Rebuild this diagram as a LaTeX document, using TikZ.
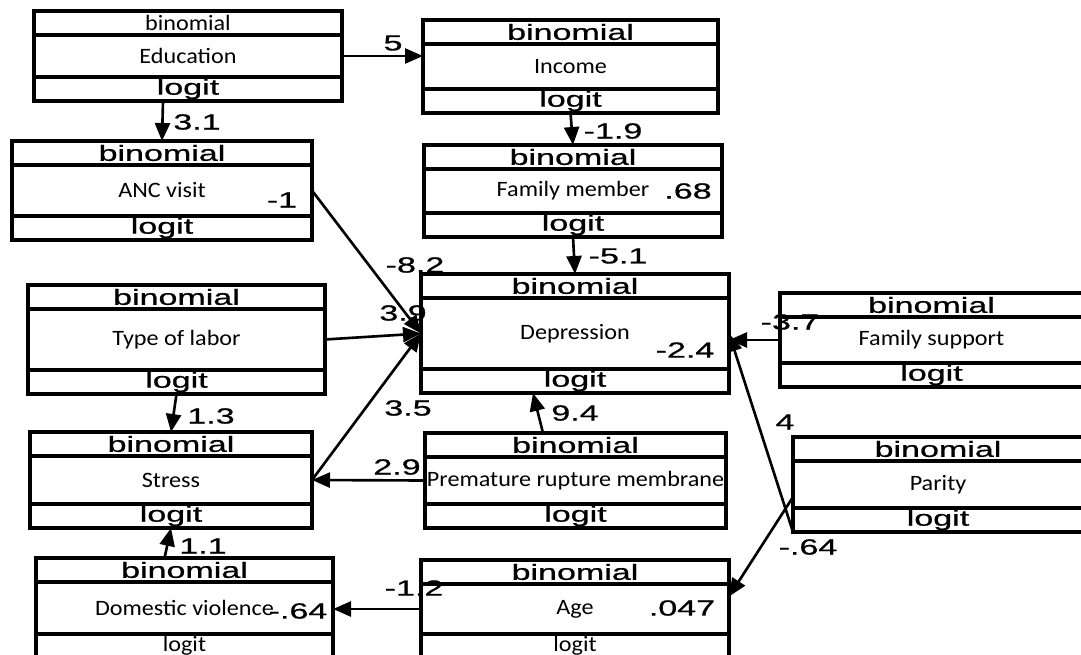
\documentclass[tikz,border=0pt]{standalone}
\usepackage{fontspec}
\usepackage{graphicx}
\usetikzlibrary{arrows.meta}
\newfontfamily\namefont{Carlito}
\newfontfamily\tagfont[FakeBold=0.6]{Liberation Sans}
\newcommand{\wide}[1]{\scalebox{1.55}[1]{\tagfont #1}}
\newcommand{\nm}[1]{\scalebox{1.1}[1]{\namefont #1}}

\begin{document}
\begin{tikzpicture}[
    x=0.02cm, y=-0.02cm,
    font=\fontsize{12.5}{14}\selectfont,
    varbox/.style={rectangle, draw, line width=2pt, inner sep=0pt, outer sep=0pt, fill=white},
    strip/.style={rectangle, draw, line width=2pt, inner sep=0pt, outer sep=0pt, minimum height=0.48cm},
    coef/.style={inner sep=0pt},
    arrow/.style={-{Triangle[length=0.36cm,width=0.3cm]}, line width=1.5pt}
]
\useasboundingbox[fill=white] (0,0) rectangle (1081,655);

% Variables (name / centre / size / label / top / bottom)
\foreach \n/\px/\py/\bw/\bh/\lab/\tp/\bt in {
    edu/188/56/308/90/Education/{\nm{binomial}}/{\wide{logit}},
    inc/570.5/66.5/295/93/Income/{\wide{binomial}}/{\wide{logit}},
    anc/162/190.5/300/99/ANC visit/{\wide{binomial}}/{\wide{logit}},
    fm/573/191/298/92/Family member/{\wide{binomial}}/{\wide{logit}},
    tol/176.5/339.5/297/109/Type of labor/{\wide{binomial}}/{\wide{logit}},
    dep/575/333.5/308/119/Depression/{\wide{binomial}}/{\wide{logit}},
    fs/931.5/340/303/94/Family support/{\wide{binomial}}/{\wide{logit}},
    stress/171/480/282/96/Stress/{\wide{binomial}}/{\wide{logit}},
    prm/575.5/480.5/301/95/Premature rupture membrane/{\wide{binomial}}/{\wide{logit}},
    par/938/484.5/290/95/Parity/{\wide{binomial}}/{\wide{logit}},
    dv/184.5/608/297/100/Domestic violence/{\wide{binomial}}/{\nm{logit}},
    age/575/609/308/98/Age/{\wide{binomial}}/{\nm{logit}}}{
  \node[varbox, minimum width={\bw*0.02cm}, minimum height={\bh*0.02cm}] (\n) at (\px,\py) {\nm{\lab}};
  \node[strip, minimum width={\bw*0.02cm}, anchor=north] (\n-top) at (\n.north) {\tp};
  \node[strip, minimum width={\bw*0.02cm}, anchor=south] (\n-bot) at (\n.south) {\bt};
}

% Paths
\draw[arrow] (edu.east) -- (edu.east -| inc.west);
\draw[arrow] ([xshift=-0.5cm]edu.south) -- (anc.north);
\draw[arrow] (inc.south) -- (fm.north);
\draw[arrow] (fm.south) -- (dep.north);
\draw[arrow] (anc.east) -- (dep.west);
\draw[arrow] (tol.east) -- (dep.west);
\draw[arrow] (stress.east) -- (dep.west);
\draw[arrow] (prm.west) -- (stress.east);
\draw[arrow] ([xshift=-0.65cm]prm.north) -- ([xshift=-0.84cm]dep.south);
\draw[arrow] (tol.south) -- (stress.north);
\draw[arrow] ([xshift=-0.4cm]dv.north) -- (stress.south);
\draw[arrow] (fs.west) -- (fs.west -| dep.east);
\draw[arrow] (par.south west) -- (dep.east);
\draw[arrow] ([yshift=-0.25cm]par.west) -- ([yshift=0.25cm]age.east);
\draw[arrow] (age.west) -- (age.west -| dv.east);

% Coefficients
\node[coef] (c-edu-inc) at (393,43) {\wide{5}};
\node[coef] (c-edu-anc) at (197,122) {\wide{3.1}};
\node[coef] (c-inc-fm) at (613,131) {\wide{-1.9}};
\node[coef] (c-fm-dep) at (618,256) {\wide{-5.1}};
\node[coef] (c-anc-dep) at (415,265) {\wide{-8.2}};
\node[coef] (c-tol-dep) at (403,313) {\wide{3.9}};
\node[coef] (c-str-dep) at (408,408) {\wide{3.5}};
\node[coef] (c-tol-str) at (211,416) {\wide{1.3}};
\node[coef] (c-prm-str) at (397,467) {\wide{2.9}};
\node[coef] (c-prm-dep) at (575,413) {\wide{9.4}};
\node[coef] (c-fs-dep) at (790,322) {\wide{-3.7}};
\node[coef] (c-par-dep) at (785,422) {\wide{4}};
\node[coef] (c-par-age) at (808,547) {\wide{-.64}};
\node[coef] (c-dv-str) at (203,546) {\wide{1.1}};
\node[coef] (c-age-dv) at (414,588) {\wide{-1.2}};

% Residual values
\node[coef] (v-anc) at (282,200) {\wide{-1}};
\node[coef] (v-fm) at (688,191) {\wide{.68}};
\node[coef] (v-dep) at (685,350) {\wide{-2.4}};
\node[coef] (v-dv) at (298,611) {\wide{-.64}};
\node[coef] (v-age) at (682,608) {\wide{.047}};

\end{tikzpicture}
\end{document}
